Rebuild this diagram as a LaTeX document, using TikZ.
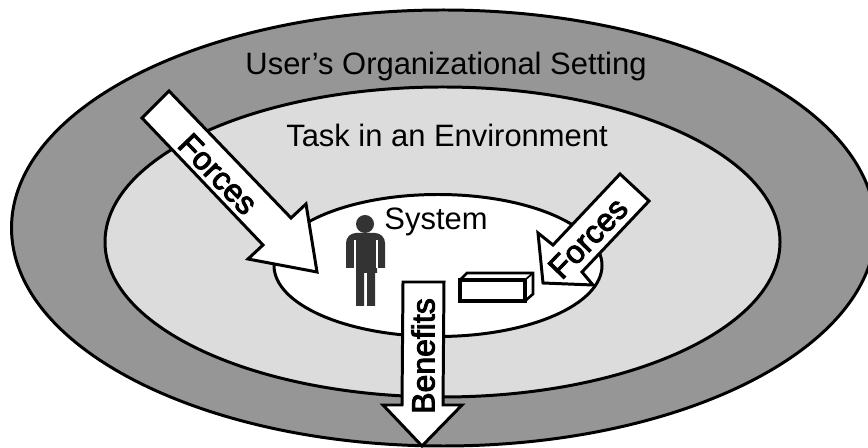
\documentclass[tikz,border=0pt]{standalone}
\usepackage{fontspec}
\setmainfont{Liberation Sans}
\newfontfamily\arrowfont[FakeBold=3]{Liberation Sans}
\definecolor{OrgGray}{HTML}{969696}
\definecolor{TaskGray}{HTML}{DCDCDC}
\definecolor{UserGray}{HTML}{333333}
\tikzstyle{Zone}=[draw=black, line width=1.7pt]
\tikzstyle{BigArrow}=[draw=black, fill=white, line width=1.7pt, line join=miter]
\tikzstyle{ZoneText}=[font=\fontsize{17.6pt}{20pt}\selectfont, inner sep=0pt]
\tikzstyle{ArrowText}=[font=\fontsize{18.2pt}{20pt}\arrowfont, inner sep=0pt]
\tikzstyle{UserPart}=[fill=UserGray, draw=none]

\begin{document}
\begin{tikzpicture}[x=0.02cm, y=-0.02cm]
\clip (0,0) rectangle (868,448);

\draw[Zone, fill=OrgGray] (443.5,228) ellipse (432 and 218);
\draw[Zone, fill=TaskGray] (442.5,242) ellipse (337.5 and 155);
\draw[Zone, fill=white] (438,265.5) ellipse (164 and 71);

\node[ZoneText](OrgLabel) at (446,67) {User’s Organizational Setting};
\node[ZoneText](TaskLabel) at (447,135) {Task in an Environment};
\node[ZoneText](SystemLabel) at (436,222) {System};

%%%%%%%%%%%%%%%%%%%%%%%%%%%%%%%%%%%%%%%%%

\fill[UserPart] (365,224) circle (9);
\fill[UserPart] (346,268) -- (346,243) arc (180:270:10) -- (375,233) arc (270:360:10) -- (385,268) -- (377,268) -- (377,273) -- (375,273) -- (375,306) -- (367,306) -- (367,273) -- (364,273) -- (364,306) -- (356,306) -- (356,268) -- cycle;
\draw[white, line width=0.7pt] (355,240) -- (355,268);
\draw[white, line width=0.7pt] (377,240) -- (377,268);

\draw[line width=2pt, fill=white] (460,280) rectangle (525,301);
\draw[line width=1.5pt] (460,280) -- (467,273) -- (533,273) -- (533,294) -- (525,301);
\draw[line width=1pt] (525,280) -- (533,273);

%%%%%%%%%%%%%%%%%%%%%%%%%%%%%%%%%%%%%%%%%

\draw[BigArrow] (169,91) -- (142,118) -- (263,245) -- (248,259) -- (317,272) -- (306,204) -- (291,218) -- cycle;
\draw[BigArrow] (620,174) -- (649,201) -- (582,272) -- (593,285) -- (543,283) -- (538,233) -- (553,245) -- cycle;
\draw[BigArrow] (403,282) -- (444,282) -- (443,405) -- (462,405) -- (422,446) -- (383,405) -- (402,405) -- cycle;

\node[ArrowText, rotate=-46](ForcesLeft) at (218,174) {Forces};
\node[ArrowText, rotate=46](ForcesRight) at (588,238) {Forces};
\node[ArrowText, rotate=90](BenefitsLabel) at (423,356) {Benefits};
\end{tikzpicture}
\end{document}
